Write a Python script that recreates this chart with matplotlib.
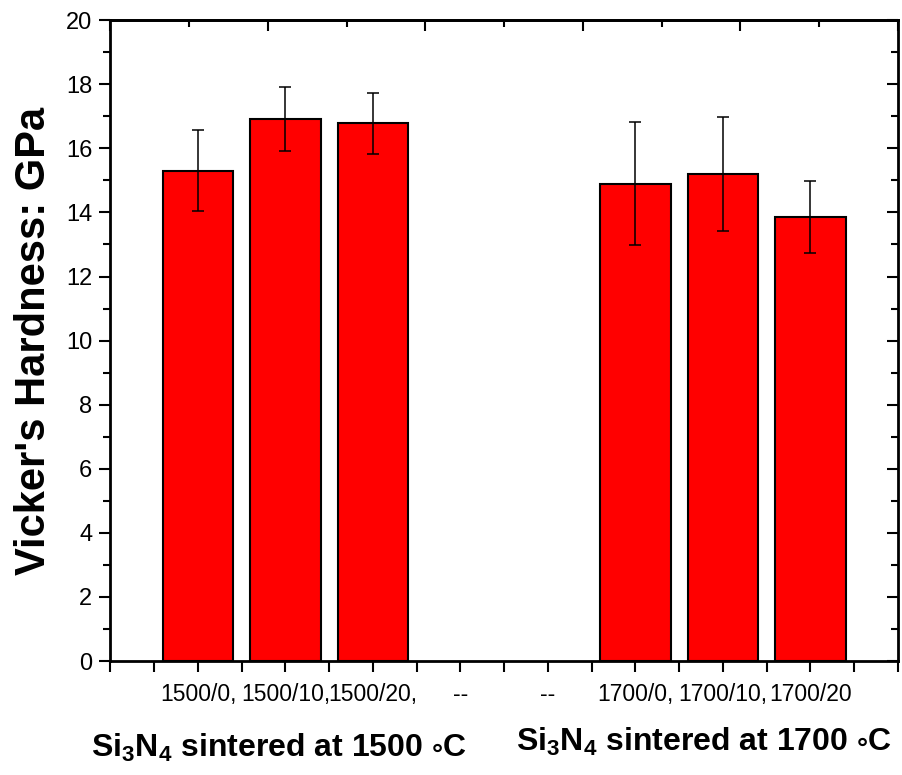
import matplotlib
matplotlib.use("Agg")
import matplotlib.pyplot as plt
from matplotlib.ticker import MultipleLocator, FixedLocator

plt.rcParams['font.family'] = ['Liberation Sans', 'DejaVu Sans']
plt.rcParams['mathtext.fontset'] = 'custom'
plt.rcParams['mathtext.rm'] = 'Liberation Sans:bold'
plt.rcParams['mathtext.it'] = 'Liberation Sans:bold'
plt.rcParams['mathtext.bf'] = 'Liberation Sans:bold'
plt.rcParams['mathtext.fallback'] = 'stixsans'

# data
labels = ['1500/0,', '1500/10,', '1500/20,', '--', '--', '1700/0,', '1700/10,', '1700/20']
hardness = [15.3, 16.92, 16.78, 0, 0, 14.9, 15.2, 13.85]
errors = [1.26, 1.0, 0.96, 0, 0, 1.93, 1.78, 1.13]
positions = list(range(1, len(labels) + 1))

fig = plt.figure(figsize=(9.02, 7.75), dpi=100)
ax = fig.add_axes([0.1225, 0.147, 0.873, 0.827])

# bars (skip the empty "--" slots)
bx = [p for p, h in zip(positions, hardness) if h > 0]
bh = [h for h in hardness if h > 0]
be = [e for h, e in zip(hardness, errors) if h > 0]
ax.bar(bx, bh, width=0.81, color='#ff0000', edgecolor='black', linewidth=1.5, zorder=2)
ax.errorbar(bx, bh, yerr=be, fmt='none', ecolor='black', elinewidth=1.1,
            capsize=4.5, capthick=1.1, zorder=3)

ax.set_xlim(0, 9)
ax.set_ylim(0, 20)

# y axis: left outward, right inward
ax.yaxis.set_major_locator(MultipleLocator(2))
ax.yaxis.set_minor_locator(MultipleLocator(1))
ax.tick_params(axis='y', which='major', direction='out', length=8, width=1.5,
               labelsize=17, right=True, pad=5)
ax.tick_params(axis='y', which='minor', direction='out', length=5, width=1.5, right=True)
for t in ax.yaxis.get_major_ticks() + ax.yaxis.get_minor_ticks():
    t.tick2line.set_marker(matplotlib.lines.TICKLEFT)

# bottom axis: categories
ax.xaxis.set_major_locator(FixedLocator(positions))
ax.xaxis.set_minor_locator(FixedLocator([i * 0.5 for i in range(0, 19) if i % 2 == 1] + [0, 9]))
ax.set_xticklabels(labels)
ax.tick_params(axis='x', which='both', direction='out', length=8, width=1.5,
               labelsize=16.5, pad=8)

# top axis with its own ticks, inward
top = ax.secondary_xaxis('top')
top.xaxis.set_major_locator(MultipleLocator(1.8))
top.xaxis.set_minor_locator(MultipleLocator(0.9))
top.tick_params(which='major', direction='in', length=8, width=1.5, labeltop=False)
top.tick_params(which='minor', direction='in', length=5, width=1.5)
top.spines['top'].set_linewidth(2)

for s in ax.spines.values():
    s.set_linewidth(2)

ax.set_ylabel("Vicker's Hardness: GPa", fontsize=30, fontweight='bold', labelpad=9)

fig.text(0.309, 0.035, r"Si$_3$N$_4$ sintered at 1500 $\circ$C", fontsize=23,
         fontweight='bold', ha='center', va='center')
fig.text(0.78, 0.043, r"Si$_3$N$_4$ sintered at 1700 $\circ$C", fontsize=23,
         fontweight='bold', ha='center', va='center')

fig.savefig('out.png', dpi=100)
